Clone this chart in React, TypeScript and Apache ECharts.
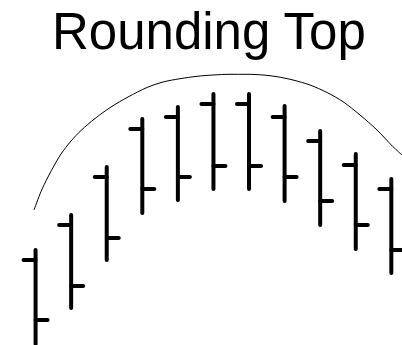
import React, { useEffect, useRef } from "react";
import * as echarts from "echarts";

const categories = ["1", "2", "3", "4", "5", "6", "7", "8", "9", "10", "11"];
const opens = [85, 120, 168, 216, 228, 241, 241, 228, 204, 180, 156];
const highs = [97, 132, 180, 228, 240, 253, 253, 241, 216, 193, 168];
const lows = [-1, 35, 83, 130, 143, 154, 154, 142, 118, 94, 70];
const closes = [25, 59, 107, 156, 168, 179, 179, 168, 144, 120, 95];

const arcX = [-0.044, 0.153, 0.349, 0.546, 0.715, 0.996, 1.277, 1.67, 2.12, 2.598, 3.132, 3.582, 4.06, 4.538, 4.987, 5.465, 5.943, 6.393, 6.786, 7.236, 7.714, 8.192, 8.642, 9.12, 9.597, 10.047, 10.3];
const arcY = [135, 153.5, 168, 181, 191, 204, 214.5, 226.5, 238, 248, 257.5, 263, 266.3, 268.7, 270, 270.7, 270.7, 270, 268.3, 265, 260, 252.5, 243.3, 230, 215, 198.3, 190];

const titleText = "Rounding Top";

export default function App() {
  const ref = useRef<HTMLDivElement>(null);
  useEffect(() => {
    if (!ref.current) return;
    const chart = echarts.init(ref.current, undefined, { renderer: "svg" });
    const ohlc = categories.map((_, i) => [i, opens[i], highs[i], lows[i], closes[i]]);
    const arc = arcX.map((x, i) => [x, arcY[i]]);
    const stroke = { stroke: "#000", lineWidth: 4, lineCap: "round" };
    chart.setOption({
      animation: false,
      backgroundColor: "#fff",
      grid: { left: 0, right: 0, top: 0, bottom: 0 },
      xAxis: { type: "value", min: -1, max: 10.3, show: false },
      yAxis: { type: "value", min: 0, max: 345, show: false },
      graphic: [
        {
          type: "text",
          left: 52,
          top: 6,
          style: {
            text: titleText,
            font: "51px 'Liberation Sans', Arial, sans-serif",
            fill: "#000",
          },
        },
      ],
      series: [
        {
          type: "line",
          data: arc,
          smooth: 0.3,
          showSymbol: false,
          silent: true,
          lineStyle: { color: "#000", width: 1 },
          z: 1,
        },
        {
          type: "custom",
          data: ohlc,
          encode: { x: 0, y: [1, 2, 3, 4] },
          z: 2,
          renderItem: (params: any, api: any) => {
            const x = api.value(0);
            const pO = api.coord([x, api.value(1)]);
            const pH = api.coord([x, api.value(2)]);
            const pL = api.coord([x, api.value(3)]);
            const pC = api.coord([x, api.value(4)]);
            return {
              type: "group",
              children: [
                { type: "line", shape: { x1: pH[0], y1: pH[1] + 2, x2: pL[0], y2: pL[1] - 2 }, style: stroke },
                { type: "line", shape: { x1: pO[0] - 12, y1: pO[1], x2: pO[0], y2: pO[1] }, style: stroke },
                { type: "line", shape: { x1: pC[0], y1: pC[1], x2: pC[0] + 12, y2: pC[1] }, style: stroke },
              ],
            };
          },
        },
      ],
    });
    return () => chart.dispose();
  }, []);
  return (
    <div
      ref={ref}
      style={{ position: "absolute", left: 0, top: 0, width: 402, height: 345 }}
    />
  );
}
